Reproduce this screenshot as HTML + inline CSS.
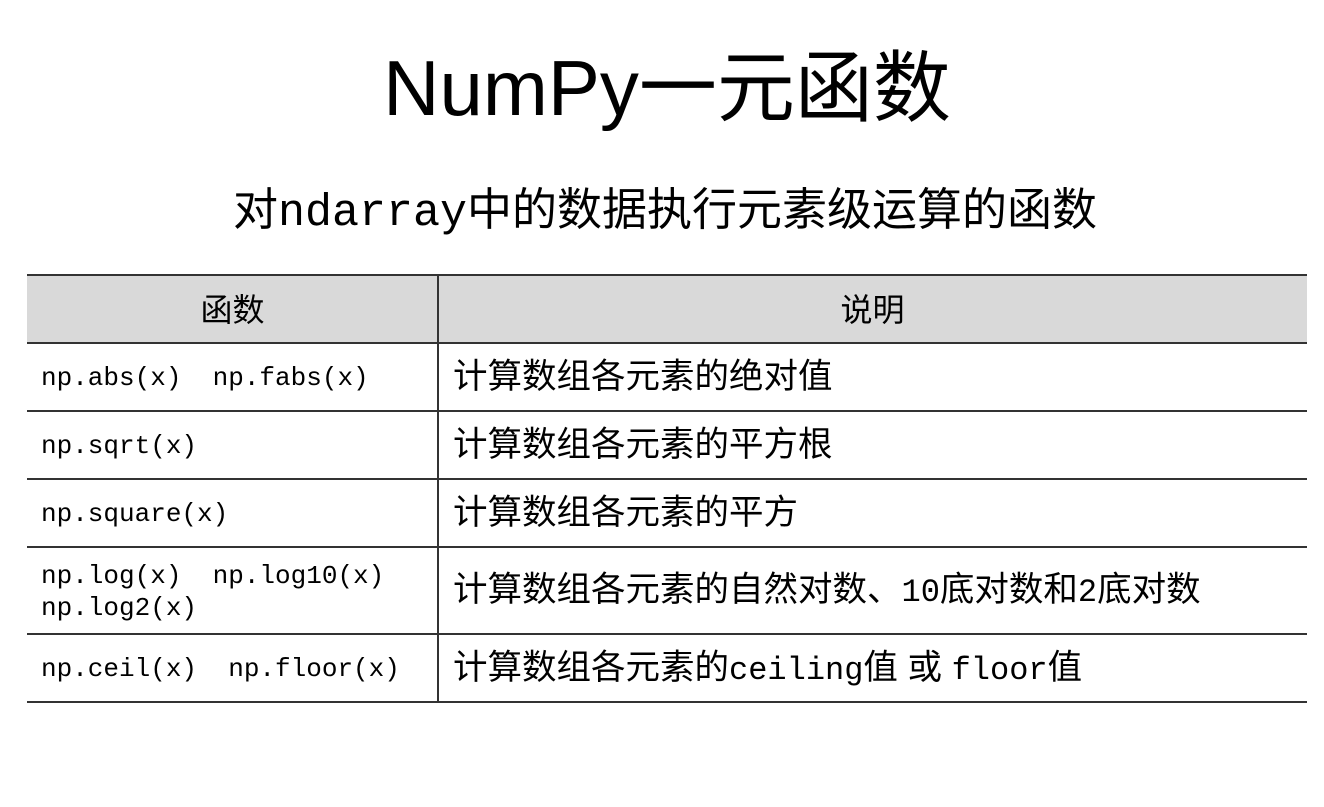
<!DOCTYPE html>
<html><head><meta charset="utf-8"><style>
body{margin:0;width:1324px;height:807px;background:#fff;position:relative;overflow:hidden;font-family:"Liberation Sans","Noto Sans CJK SC",sans-serif;color:#000}
.a{position:absolute;white-space:pre}
.hl{position:absolute;left:27px;width:1280px;height:2px;background:#333}
.m{font-family:"Liberation Mono","Noto Sans CJK SC",monospace;font-size:26px;line-height:32px;left:41px}
.d{font-size:34.5px;left:453px;line-height:40px}
.d span{font-family:"Liberation Mono",monospace;font-size:32px}
</style></head><body>
<div class="a" style="left:0;width:1334px;text-align:center;top:40px;font-size:78px;line-height:96px">NumPy一元函数</div>
<div class="a" style="left:0;width:1330px;text-align:center;top:182px;font-size:45px;line-height:56px">对<span style="font-family:'Liberation Mono',monospace">ndarray</span>中的数据执行元素级运算的函数</div>
<div style="position:absolute;left:27px;top:275px;width:1280px;height:69px;background:#d9d9d9"></div>
<div class="hl" style="top:274px"></div>
<div class="hl" style="top:342px"></div>
<div class="hl" style="top:410px"></div>
<div class="hl" style="top:478px"></div>
<div class="hl" style="top:546px"></div>
<div class="hl" style="top:633px"></div>
<div class="hl" style="top:701px"></div>
<div style="position:absolute;left:437px;top:275px;width:2px;height:428px;background:#333"></div>
<div class="a" style="left:27px;width:411px;text-align:center;top:290px;font-size:32px;line-height:40px">函数</div>
<div class="a" style="left:438px;width:869px;text-align:center;top:290px;font-size:32px;line-height:40px">说明</div>
<div class="a m" style="top:362px">np.abs(x)  np.fabs(x)</div>
<div class="a m" style="top:430px">np.sqrt(x)</div>
<div class="a m" style="top:498px">np.square(x)</div>
<div class="a m" style="top:560px">np.log(x)  np.log10(x)
np.log2(x)</div>
<div class="a m" style="top:653px">np.ceil(x)  np.floor(x)</div>
<div class="a d" style="top:357px">计算数组各元素的绝对值</div>
<div class="a d" style="top:425px">计算数组各元素的平方根</div>
<div class="a d" style="top:493px">计算数组各元素的平方</div>
<div class="a d" style="top:570px">计算数组各元素的自然对数、<span>10</span>底对数和<span>2</span>底对数</div>
<div class="a d" style="top:648px">计算数组各元素的<span>ceiling</span>值 或 <span>floor</span>值</div>
</body></html>
